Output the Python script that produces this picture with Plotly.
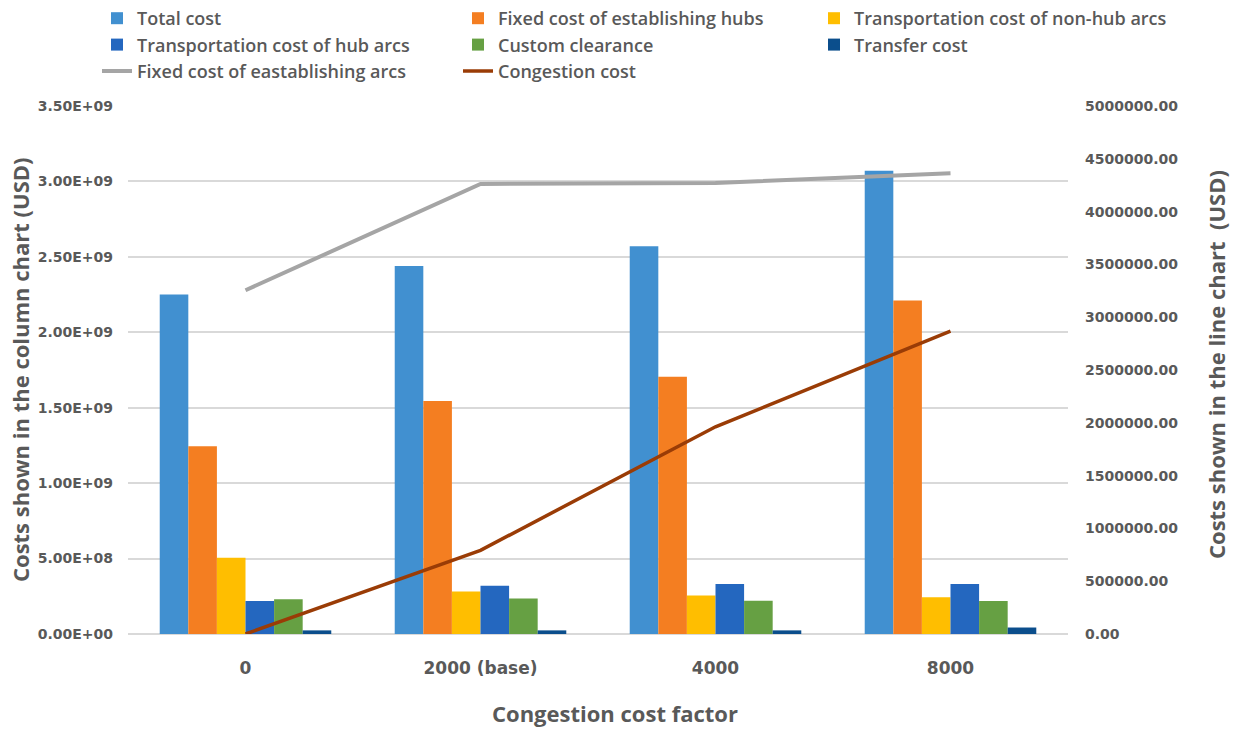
import plotly.graph_objects as go

# Congestion cost factor scenarios
factors = ["0", "2000 (base)", "4000", "8000"]

# Column-chart costs (USD), left axis
total_cost = [2.25e9, 2.44e9, 2.57e9, 3.07e9]
fixed_hubs = [1.245e9, 1.545e9, 1.705e9, 2.21e9]
nonhub_transport = [0.505e9, 0.282e9, 0.256e9, 0.244e9]
hub_transport = [0.218e9, 0.320e9, 0.332e9, 0.332e9]
custom_clearance = [0.230e9, 0.235e9, 0.220e9, 0.218e9]
transfer_cost = [0.024e9, 0.024e9, 0.024e9, 0.043e9]

# Line-chart costs (USD), right axis
fixed_arcs = [3.255e6, 4.262e6, 4.272e6, 4.362e6]
congestion_cost = [0.0, 0.792e6, 1.962e6, 2.868e6]

# Axis ticks
left_ticks = [0, 0.5e9, 1.0e9, 1.5e9, 2.0e9, 2.5e9, 3.0e9, 3.5e9]
right_ticks = [0, 500000, 1000000, 1500000, 2000000, 2500000,
               3000000, 3500000, 4000000, 4500000, 5000000]

W, H = 1243, 729
ML, MR, MT, MB = 128, 175, 106, 95
PW, PH = W - ML - MR, H - MT - MB

GREY_TXT = "#595959"
TICK_FONT = dict(family="DejaVu Sans", size=14, color=GREY_TXT, weight="bold")
TITLE_FONT = dict(family="Open Sans", size=22, color=GREY_TXT, weight="bold")
LEGEND_FONT = dict(family="Open Sans", size=18, color=GREY_TXT, weight=600)

bars = [
    ("Total cost", total_cost, "#4190D0", "legend"),
    ("Fixed cost of establishing hubs", fixed_hubs, "#F47E21", "legend2"),
    ("Transportation cost of non-hub arcs", nonhub_transport, "#FFBE00", "legend3"),
    ("Transportation cost of hub arcs", hub_transport, "#2467BF", "legend"),
    ("Custom clearance", custom_clearance, "#66A043", "legend2"),
    ("Transfer cost", transfer_cost, "#0B4E8C", "legend3"),
]

fig = go.Figure()
for name, vals, color, leg in bars:
    fig.add_trace(go.Bar(
        x=factors, y=vals, name=name, marker=dict(color=color, line=dict(width=0)),
        legend=leg, legendgroup=name, yaxis="y",
    ))

lines = [
    ("Fixed cost of eastablishing arcs", fixed_arcs, "#A5A5A5", 4, "legend"),
    ("Congestion cost", congestion_cost, "#9A3C06", 3.5, "legend2"),
]
for name, vals, color, w, leg in lines:
    fig.add_trace(go.Scatter(
        x=factors, y=vals, name=name, mode="lines", yaxis="y2",
        line=dict(color=color, width=w), legend=leg, legendgroup=name,
    ))

legend_common = dict(
    orientation="v", xref="container", yref="container", xanchor="left",
    yanchor="top", y=1.008, font=LEGEND_FONT, bgcolor="rgba(0,0,0,0)",
    traceorder="grouped", tracegroupgap=0, itemclick=False,
)

# Axis titles placed as annotations (pixel offsets from the plot area)
def px_x(px):
    return (px - ML) / PW

def px_y(py):
    return (H - MB - py) / PH

title_common = dict(xref="paper", yref="paper", xanchor="center", yanchor="middle",
                    showarrow=False, font=TITLE_FONT)
fig.add_annotation(text="Costs shown in the column chart (USD)", textangle=-90,
                   x=px_x(20), y=px_y(370), **title_common)
fig.add_annotation(text="Costs shown in the line chart  (USD)", textangle=-90,
                   x=px_x(1216), y=px_y(365), **title_common)
fig.add_annotation(text="Congestion cost factor",
                   x=px_x(615), y=px_y(713), **title_common)

fig.update_layout(
    width=W, height=H,
    margin=dict(l=ML, r=MR, t=MT, b=MB, autoexpand=False),
    plot_bgcolor="white", paper_bgcolor="white",
    barmode="group", bargap=0.27, bargroupgap=0,
    xaxis=dict(
        type="category", showgrid=False, ticks="", showline=False, automargin=False,
        tickfont=dict(family="DejaVu Sans", size=17, color=GREY_TXT, weight="bold"),
        ticklabelstandoff=22,
    ),
    yaxis=dict(
        range=[0, 3.5e9], tickvals=left_ticks, automargin=False,
        ticktext=[f"{v:.2E}" for v in left_ticks],
        showgrid=True, gridcolor="#D9D9D9", gridwidth=1.5,
        zeroline=True, zerolinecolor="#D9D9D9", zerolinewidth=1.5,
        ticks="", tickfont=TICK_FONT, ticklabelstandoff=14,
    ),
    yaxis2=dict(
        range=[0, 5e6], tickvals=right_ticks, automargin=False,
        ticktext=[f"{v:.2f}" for v in right_ticks],
        overlaying="y", side="right", showgrid=False, zeroline=False,
        ticks="", tickfont=TICK_FONT, ticklabelstandoff=16,
    ),
    legend=dict(legend_common, x=97 / W),
    legend2=dict(legend_common, x=458 / W),
    legend3=dict(legend_common, x=814 / W),
)

fig.write_html("out.html")
